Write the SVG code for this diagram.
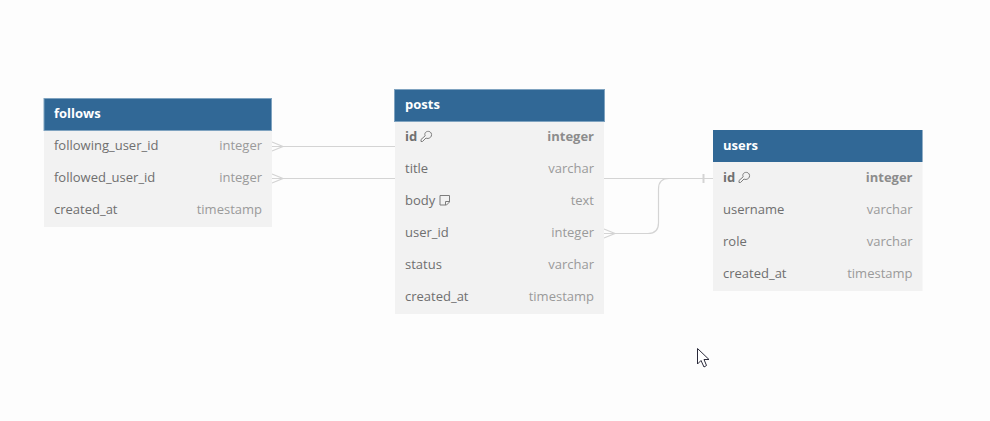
<svg xmlns="http://www.w3.org/2000/svg" width="990" height="421" viewBox="0 0 990 421">
<style>
text{font-family:"Open Sans","Noto Sans",sans-serif;font-size:13px}
.body{fill:#f2f2f2}
.head{fill:#316896;stroke:#7fa3c0;stroke-width:1}
.title{fill:#fff;font-weight:700}
.name{fill:#6f6f6f}
.type{fill:#9a9a9a;text-anchor:end}
.pk{fill:#707070;font-weight:700}
.pkt{fill:#8c8c8c;font-weight:700;text-anchor:end}
.line{fill:none;stroke:#d4d4d4;stroke-width:1.200}
.icon{fill:none;stroke:#7d7d7d;stroke-width:1}
</style>
<rect width="990" height="421" fill="#fdfdfd"/>
<g id="connectors">
<path class="line" d="M272 146.500H395M272 142L283 146.500L272 151"/>
<path class="line" d="M272 178.500H395M272 174L283 178.500L272 183"/>
<path class="line" d="M604 178.500H713"/>
<path class="line" d="M703.500 174V183" style="stroke-width:2"/>
<path class="line" d="M604 233.500H648Q658.500 233.500 658.500 223V189Q658.500 178.500 669 178.500H713M604 229L615 233.500L604 238"/>
</g>
<g id="follows">
<rect class="body" x="44" y="98" width="228" height="129"/>
<rect class="head" x="44" y="98.500" width="227.500" height="32"/>
<text class="title" x="54" y="118">follows</text>
<text class="name" x="54" y="150">following_user_id</text><text class="type" x="262" y="150">integer</text>
<text class="name" x="54" y="182">followed_user_id</text><text class="type" x="262" y="182">integer</text>
<text class="name" x="54" y="214">created_at</text><text class="type" x="262" y="214">timestamp</text>
</g>
<g id="posts">
<rect class="body" x="395" y="89" width="209" height="225"/>
<rect class="head" x="394.500" y="89.500" width="210" height="32"/>
<text class="title" x="405" y="109">posts</text>
<text class="pk" x="405" y="141">id</text><text class="pkt" x="594" y="141">integer</text>
<g class="icon"><path d="M424.800 134.500C424.800 131.500 428 130.800 430 131.800C432 133 432 136 430.500 137.300C429 138.700 427 138.700 426 138L422.500 141.500H421V139.500L425.200 135.800Z"/></g>
<text class="name" x="405" y="173">title</text><text class="type" x="594" y="173">varchar</text>
<text class="name" x="405" y="205">body</text><text class="type" x="594" y="205">text</text>
<path class="icon" d="M440 195.500H449.500V202L446.500 205H440ZM449.500 201.500H445.500V205"/>
<text class="name" x="405" y="237">user_id</text><text class="type" x="594" y="237">integer</text>
<text class="name" x="405" y="269">status</text><text class="type" x="594" y="269">varchar</text>
<text class="name" x="405" y="301">created_at</text><text class="type" x="594" y="301">timestamp</text>
</g>
<g id="users">
<rect class="body" x="713" y="130" width="209.500" height="161"/>
<rect x="713" y="130" width="209.500" height="32" fill="#316896"/>
<text class="title" x="723" y="150">users</text>
<text class="pk" x="723" y="182">id</text><text class="pkt" x="912.500" y="182">integer</text>
<g class="icon"><path d="M742.800 175.500C742.800 172.500 746 171.800 748 172.800C750 174 750 177 748.500 178.300C747 179.700 745 179.700 744 179L740.500 182.500H739V180.500L743.200 176.800Z"/></g>
<text class="name" x="723" y="214">username</text><text class="type" x="912.500" y="214">varchar</text>
<text class="name" x="723" y="246">role</text><text class="type" x="912.500" y="246">varchar</text>
<text class="name" x="723" y="278">created_at</text><text class="type" x="912.500" y="278">timestamp</text>
</g>
<path d="M697.500 348.500V364L701 360.500L704 367L706.500 365.500L704 359.500H709Z" fill="#fff" stroke="#2a2a3a" stroke-width="1"/>
</svg>
